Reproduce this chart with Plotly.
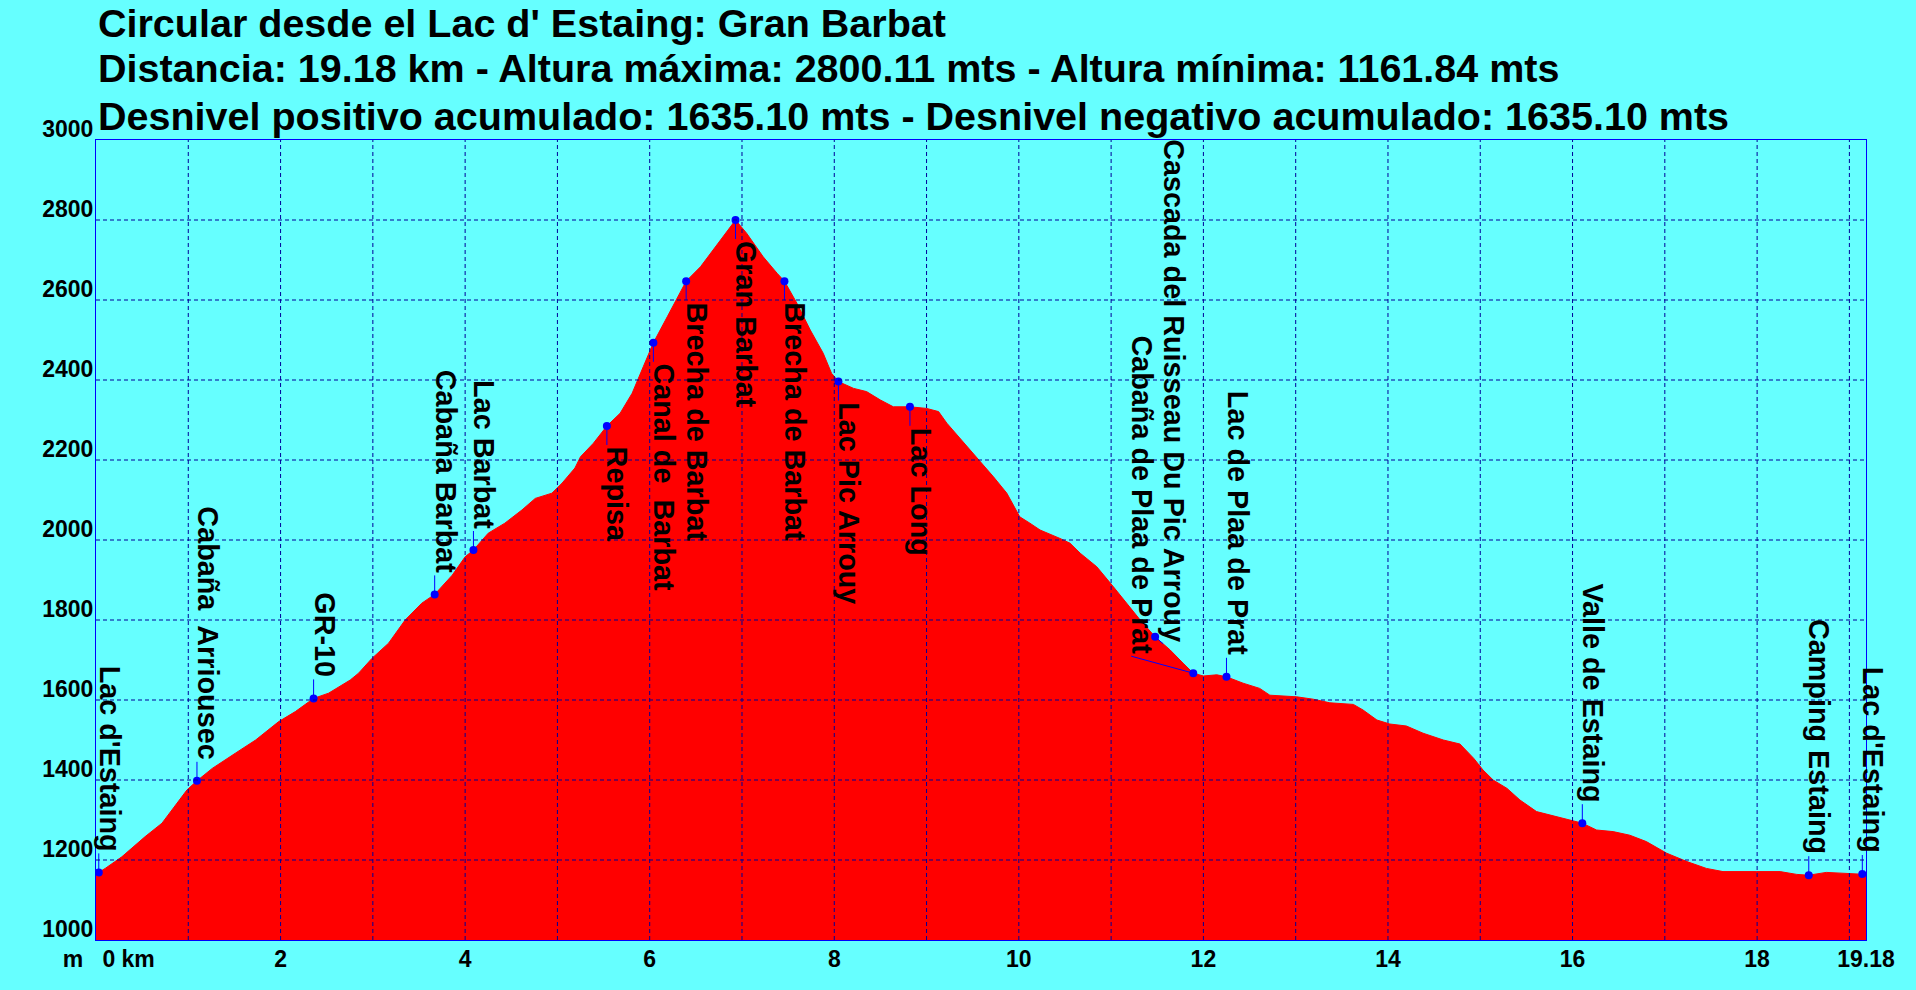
import plotly.graph_objects as go

# perfil de la ruta (km, m)
dist_km = [0.0, 0.03, 0.1, 0.28, 0.53, 0.715, 0.88, 0.985, 1.094, 1.26, 1.51, 1.73, 1.98, 2.16,
           2.358, 2.52, 2.755, 2.845, 2.99, 3.17, 3.35, 3.53, 3.67, 3.86, 4.0, 4.09, 4.25, 4.43,
           4.615, 4.76, 4.94, 5.05, 5.19, 5.25, 5.39, 5.536, 5.68, 5.81, 5.93, 6.04, 6.19, 6.29,
           6.395, 6.55, 6.73, 6.93, 7.05, 7.23, 7.38, 7.46, 7.595, 7.74, 7.88, 7.97, 8.045, 8.21,
           8.35, 8.5, 8.64, 8.82, 9.0, 9.13, 9.22, 9.365, 9.545, 9.725, 9.87, 10.01, 10.12, 10.23,
           10.445, 10.555, 10.665, 10.845, 11.025, 11.17, 11.315, 11.477, 11.64, 11.78, 11.89,
           12.0, 12.145, 12.25, 12.43, 12.61, 12.72, 13.01, 13.19, 13.37, 13.625, 13.73, 13.88,
           14.02, 14.2, 14.38, 14.6, 14.78, 14.93, 15.03, 15.14, 15.29, 15.43, 15.61, 15.83, 16.01,
           16.106, 16.26, 16.44, 16.62, 16.8, 17.02, 17.24, 17.45, 17.63, 17.99, 18.25, 18.43,
           18.56, 18.75, 18.965, 19.14, 19.18]
elev_m = [1165, 1169, 1179, 1208, 1258, 1292, 1342, 1375, 1398, 1429, 1467, 1500, 1546, 1571,
          1604, 1617, 1650, 1667, 1704, 1742, 1800, 1842, 1864, 1912, 1958, 1975, 2017, 2042,
          2075, 2104, 2117, 2142, 2180, 2208, 2242, 2285, 2317, 2367, 2433, 2493, 2558, 2600,
          2647, 2683, 2737, 2800, 2767, 2708, 2667, 2647, 2592, 2525, 2467, 2417, 2396, 2379,
          2371, 2350, 2333, 2333, 2329, 2321, 2292, 2254, 2204, 2158, 2117, 2058, 2042, 2025,
          2004, 1992, 1967, 1933, 1883, 1842, 1800, 1758, 1725, 1692, 1667,
          1660, 1663, 1658, 1642, 1629, 1612, 1608, 1602, 1593, 1589, 1575, 1550,
          1540, 1535, 1517, 1500, 1490, 1454, 1425, 1400, 1379, 1350, 1321, 1308, 1296,
          1292, 1275, 1271, 1262, 1246, 1217, 1196, 1179, 1171, 1171, 1171, 1164,
          1162, 1169, 1167, 1165, 1164]

# puntos de paso
wp_names = ["Lac d'Estaing", "Cabaña\u00a0 Arriousec", "GR-10", "Cabaña Barbat", "Lac Barbat",
            "Repisa", "Canal de\u00a0 Barbat", "Brecha de Barbat", "Gran Barbat", "Brecha de Barbat",
            "Lac Pic Arrouy", "Lac Long", "Cascada del Ruisseau Du Pic Arrouy",
            "Cabaña de Plaa de Prat", "Lac de Plaa de Prat", "Valle de Estaing",
            "Camping Estaing", "Lac d'Estaing"]
wp_km = [0.03, 1.094, 2.358, 3.67, 4.09, 5.536, 6.04, 6.395, 6.93, 7.46, 8.045, 8.82,
         11.477, 11.89, 12.25, 16.106, 18.56, 19.14]
wp_elev = [1169, 1398, 1604, 1864, 1975, 2285, 2493, 2647, 2800, 2647, 2396, 2333,
           1758, 1667, 1658, 1292, 1162, 1165]

titulo = ["Circular desde el Lac d' Estaing: Gran Barbat",
          "Distancia: 19.18 km - Altura máxima: 2800.11 mts - Altura mínima: 1161.84 mts",
          "Desnivel positivo acumulado: 1635.10 mts - Desnivel negativo acumulado: 1635.10 mts"]

x_ticks = [0, 2, 4, 6, 8, 10, 12, 14, 16, 18, 19.18]
x_ticktext = ["\u00a0\u00a0\u00a0\u00a0m\u00a0\u00a0\u00a00 km", "2", "4", "6", "8", "10", "12",
              "14", "16", "18", "19.18"]
y_ticks = [1000, 1200, 1400, 1600, 1800, 2000, 2200, 2400, 2600, 2800, 3000]

FONDO = "#66FFFF"
AZUL = "#0000FF"
FUENTE = "Liberation Sans"

# desplazamiento (px) de la etiqueta respecto al punto: (dx, dy), dy<0 = arriba
abajo = {5, 6, 7, 8, 9, 10, 11}
desplaz = {12: (8, 7), 13: (-62, -17)}

fig = go.Figure()
fig.add_trace(go.Scatter(x=dist_km, y=elev_m, mode="lines", fill="tozeroy",
                         fillcolor="#FF0000", line=dict(color="#FF0000", width=1),
                         hoverinfo="skip"))

# palitos entre punto y etiqueta
px_km = 92.3
px_m = 0.4
sx, sy = [], []
for i in range(len(wp_km)):
    if i in desplaz:
        dx, dy = desplaz[i]
    elif i in abajo:
        dx, dy = 0, 19
    else:
        dx, dy = 0, -19
    sx += [wp_km[i], wp_km[i] + dx / px_km, None]
    sy += [wp_elev[i], wp_elev[i] - dy / px_m, None]
fig.add_trace(go.Scatter(x=sx, y=sy, mode="lines", line=dict(color=AZUL, width=1),
                         hoverinfo="skip"))
fig.add_trace(go.Scatter(x=wp_km, y=wp_elev, mode="markers",
                         marker=dict(color=AZUL, size=8), hoverinfo="skip"))

for i, nombre in enumerate(wp_names):
    if i in desplaz:
        dx, dy = desplaz[i]
    elif i in abajo:
        dx, dy = 0, 19
    else:
        dx, dy = 0, -19
    fig.add_annotation(x=wp_km[i], y=wp_elev[i], text=nombre, showarrow=False,
                       textangle=90, xanchor="left",
                       yanchor="top" if i in abajo else "bottom",
                       xshift=dx - 7, yshift=-dy,
                       font=dict(family=FUENTE, size=28.8, color="black", weight="bold"))

# rejilla discontinua por encima del relleno
for k in range(1, 20):
    fig.add_shape(type="line", x0=k, x1=k, y0=1000, y1=3000, xref="x", yref="y", layer="above",
                  line=dict(color="#000099", width=1, dash="4px,3px"))
for h in y_ticks[1:-1]:
    fig.add_shape(type="line", x0=0, x1=19.18, y0=h, y1=h, xref="x", yref="y", layer="above",
                  line=dict(color="#000099", width=1, dash="4px,3px"))

for linea, yy in zip(titulo, [1.146, 1.0895, 1.0295]):
    fig.add_annotation(text=linea, xref="paper", yref="paper", x=0, y=yy, xanchor="left",
                       yanchor="middle", showarrow=False,
                       font=dict(family=FUENTE, size=39.5, color="black", weight="bold"))

fig.update_layout(width=1916, height=990, showlegend=False,
                  paper_bgcolor=FONDO, plot_bgcolor=FONDO,
                  margin=dict(l=96, r=50, t=140, b=50),
                  font=dict(family=FUENTE, color="black"))
fig.update_xaxes(range=[0, 19.18], tickvals=x_ticks, ticktext=x_ticktext, showgrid=False,
                 zeroline=False, showline=True, linecolor=AZUL, linewidth=1, mirror=True,
                 ticks="", ticklabelstandoff=-2,
                 tickfont=dict(family=FUENTE, size=23, color="black", weight="bold"))
fig.update_yaxes(range=[1000, 3000], tickvals=y_ticks, showgrid=False, zeroline=False,
                 showline=True, linecolor=AZUL, linewidth=1, mirror=True, ticks="",
                 ticklabelshift=-11, ticklabelstandoff=-3,
                 tickfont=dict(family=FUENTE, size=23, color="black", weight="bold"))

# sin margen del body para que la figura ocupe toda la ventana
fig.write_html("out.html", config={"displayModeBar": False},
               post_script="document.body.style.margin='0';"
                           "document.body.style.background='" + FONDO + "';")
